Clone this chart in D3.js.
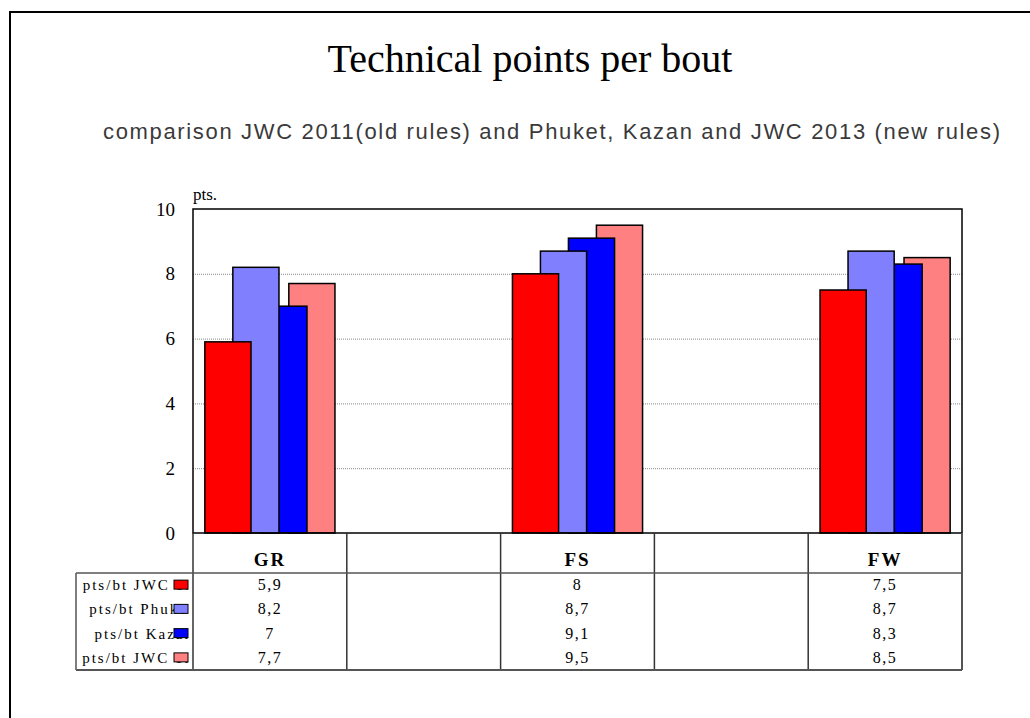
<!DOCTYPE html>
<html>
<head>
<meta charset="utf-8">
<script src="https://cdn.jsdelivr.net/npm/d3@7"></script>
<style>
body { margin: 0; background: #fff; }
svg { display: block; }
</style>
</head>
<body>
<script>
var categories = ["GR", "", "FS", "", "FW"];
var seriesNames = ["pts/bt JWC 11", "pts/bt Phuket", "pts/bt Kazan", "pts/bt JWC 13"];
var seriesColors = ["#ff0000", "#8080ff", "#0000ff", "#ff8080"];
var jwc2011 = [5.9, null, 8, null, 7.5];
var phuket = [8.2, null, 8.7, null, 8.7];
var kazan = [7, null, 9.1, null, 8.3];
var jwc2013 = [7.7, null, 9.5, null, 8.5];
var seriesValues = [jwc2011, phuket, kazan, jwc2013];
var yTicks = [0, 2, 4, 6, 8, 10];

var svgWidth = 1030, svgHeight = 718;
var plot = {left: 193, top: 209, right: 962, bottom: 533};
var table = {labelLeft: 76, headerBottom: 573, rowHeight: 24.25};
var serif = "'Liberation Serif', 'Times New Roman', serif";

var svg = d3.select("body").append("svg").attr("width", svgWidth).attr("height", svgHeight);

// outer frame (runs off the page on the right and bottom)
svg.append("rect").attr("x", 10).attr("y", 12).attr("width", 1040).attr("height", 740)
    .attr("fill", "none").attr("stroke", "#000").attr("stroke-width", 2);

svg.append("text").attr("x", 530).attr("y", 72).attr("text-anchor", "middle")
    .style("font-family", serif).style("font-size", "40px")
    .text("Technical points per bout");

svg.append("text").attr("x", 103).attr("y", 139)
    .attr("textLength", 897).attr("lengthAdjust", "spacing")
    .style("font-family", "'Liberation Sans', Arial, sans-serif").style("font-size", "22px").attr("fill", "#3a3a3a")
    .text("comparison JWC 2011(old rules) and Phuket, Kazan and JWC 2013 (new rules)");

var x = d3.scaleBand().domain(d3.range(categories.length)).range([plot.left, plot.right]);
var y = d3.scaleLinear().domain([0, 10]).range([plot.bottom, plot.top]);
// bars overlap: offsets of each series from the band centre, as a share of the band
var offset = d3.scalePoint().domain(d3.range(seriesNames.length)).range([-0.273, 0.273]);
var barW = x.bandwidth() * 0.3;

// gridlines
svg.append("g").attr("transform", `translate(${plot.left},0)`)
    .call(d3.axisLeft(y).tickValues(yTicks.slice(1, -1)).tickSize(-(plot.right - plot.left)).tickFormat(""))
    .call(g => g.select(".domain").remove())
    .call(g => g.selectAll("line").attr("stroke", "#888").attr("stroke-dasharray", "1,1"));

// y axis labels
svg.append("g").attr("transform", `translate(${plot.left},0)`)
    .call(d3.axisLeft(y).tickValues(yTicks).tickSize(0).tickPadding(18))
    .call(g => g.select(".domain").remove())
    .call(g => g.selectAll("text").attr("fill", "#000")
        .style("font-family", serif).style("font-size", "19px"));

svg.append("text").attr("x", plot.left).attr("y", 200)
    .style("font-family", serif).style("font-size", "17px")
    .text("pts.");

// bars, back series first so the first series sits in front
var bars = [];
seriesValues.forEach(function(vals, s) {
    vals.forEach(function(v, c) {
        if (v != null) bars.push({s: s, c: c, v: v});
    });
});
bars.sort((a, b) => b.s - a.s);

svg.append("g").selectAll("rect").data(bars).enter().append("rect")
    .attr("x", d => x(d.c) + x.bandwidth() / 2 + offset(d.s) * x.bandwidth() - barW / 2)
    .attr("y", d => y(d.v))
    .attr("width", barW)
    .attr("height", d => y(0) - y(d.v))
    .attr("fill", d => seriesColors[d.s])
    .attr("stroke", "#000").attr("stroke-width", 1.5);

// plot frame
svg.append("rect").attr("x", plot.left).attr("y", plot.top)
    .attr("width", plot.right - plot.left).attr("height", plot.bottom - plot.top)
    .attr("fill", "none").attr("stroke", "#000").attr("stroke-width", 1.5);

// data table
var tableBottom = table.headerBottom + table.rowHeight * seriesNames.length;
var tg = svg.append("g");
var lineColor = "#555";

x.domain().forEach(function(c) {
    tg.append("line").attr("x1", x(c)).attr("x2", x(c)).attr("y1", plot.bottom).attr("y2", tableBottom)
        .attr("stroke", "#333").attr("stroke-width", 1.5);
});
tg.append("line").attr("x1", plot.right).attr("x2", plot.right).attr("y1", plot.bottom).attr("y2", tableBottom)
    .attr("stroke", lineColor).attr("stroke-width", 2);
tg.append("line").attr("x1", table.labelLeft).attr("x2", table.labelLeft).attr("y1", table.headerBottom).attr("y2", tableBottom)
    .attr("stroke", lineColor).attr("stroke-width", 1.5);
[table.headerBottom, tableBottom].forEach(function(yy) {
    tg.append("line").attr("x1", table.labelLeft).attr("x2", plot.right).attr("y1", yy).attr("y2", yy)
        .attr("stroke", lineColor).attr("stroke-width", yy == tableBottom ? 2 : 1.5);
});

tg.selectAll(".head").data(categories).enter().append("text")
    .attr("x", (d, i) => x(i) + x.bandwidth() / 2).attr("y", 566)
    .attr("text-anchor", "middle")
    .style("font-family", serif).style("font-size", "19px")
    .style("font-weight", "bold").style("letter-spacing", "2px")
    .text(d => d);

var fmt = d3.formatLocale({decimal: ",", thousands: ".", grouping: [3], currency: ["", ""]}).format(".1~f");

// row labels get cut off under the legend key
svg.append("clipPath").attr("id", "labelClip").append("rect")
    .attr("x", table.labelLeft).attr("y", table.headerBottom).attr("width", 188 - table.labelLeft).attr("height", 100);

seriesNames.forEach(function(name, s) {
    var cy = table.headerBottom + table.rowHeight * (s + 0.5);
    tg.append("text").attr("x", 194).attr("y", cy + 5).attr("text-anchor", "end")
        .attr("clip-path", "url(#labelClip)")
        .style("font-family", serif).style("font-size", "15px")
        .style("letter-spacing", "2px")
        .text(name);
    tg.append("rect").attr("x", 174).attr("y", cy - 5).attr("width", 14).attr("height", 9)
        .attr("fill", seriesColors[s]).attr("stroke", "#000").attr("stroke-width", 1);
    seriesValues[s].forEach(function(v, c) {
        if (v == null) return;
        tg.append("text").attr("x", x(c) + x.bandwidth() / 2).attr("y", cy + 5)
            .attr("text-anchor", "middle")
            .style("font-family", serif).style("font-size", "16px")
            .style("letter-spacing", "1.5px")
            .text(fmt(v));
    });
});
</script>
</body>
</html>
